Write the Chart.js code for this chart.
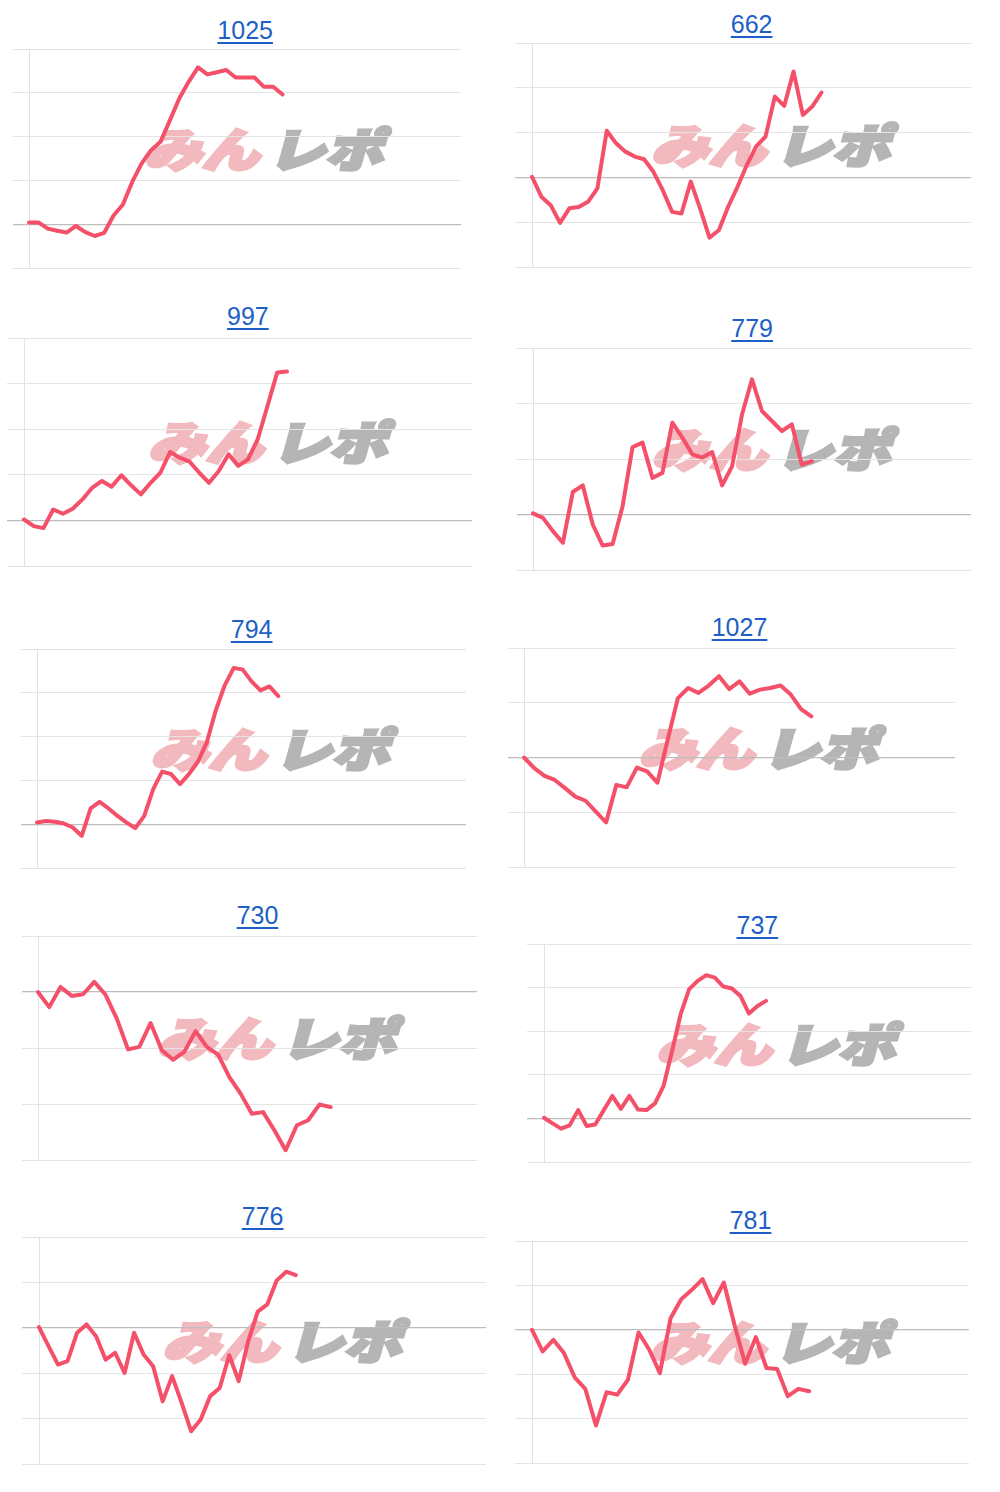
<!DOCTYPE html>
<html><head><meta charset="utf-8">
<script src="https://cdn.jsdelivr.net/npm/chart.js@4.4.1/dist/chart.umd.min.js"></script>
<style>
html,body{margin:0;padding:0;background:#fff}
body{width:1000px;height:1492px;position:relative;overflow:hidden;font-family:"Liberation Sans",Arial,Helvetica,sans-serif}
.t{position:absolute;color:#1d5fc6;text-decoration:underline;text-underline-offset:3px;font-size:25px;line-height:1;transform:translateX(-50%);white-space:nowrap}
canvas.c{position:absolute}
</style></head><body>
<script>
// ---- data ----
const titles = ['1025','662','997','779','794','1027','730','737','776','781'];
const s1025 = [40,40,-100,-150,-190,-40,-180,-270,-200,200,450,970,1390,1690,1880,2370,2870,3250,3580,3420,3470,3520,3350,3350,3350,3140,3140,2960];
const s662  = [15,-430,-620,-1015,-690,-660,-545,-245,1040,760,575,465,405,125,-285,-770,-805,-95,-695,-1345,-1180,-655,-210,275,690,910,1805,1595,2365,1395,1580,1895];
const s997  = [20,-125,-170,240,145,255,460,715,865,740,990,770,570,825,1045,1500,1375,1290,1045,825,1085,1450,1195,1340,1780,2510,3245,3265];
const s779  = [20,-60,-300,-510,405,525,-180,-560,-530,150,1215,1295,660,750,1655,1385,1085,1025,1125,525,870,1805,2435,1865,1685,1505,1625,900,960];
const s794  = [40,75,55,15,-75,-265,360,510,360,190,40,-90,190,800,1200,1145,915,1145,1425,1870,2595,3170,3565,3535,3260,3055,3145,2925];
const s1027 = [0,-195,-335,-410,-560,-715,-790,-990,-1185,-500,-545,-185,-255,-460,325,1085,1270,1180,1315,1485,1250,1390,1165,1240,1270,1315,1150,885,750];
const s730  = [0,-270,90,-70,-40,180,-50,-475,-1025,-980,-555,-1040,-1210,-1070,-700,-980,-1120,-1520,-1815,-2175,-2145,-2470,-2825,-2380,-2290,-2010,-2055];
const s737  = [15,-115,-235,-160,190,-175,-140,190,515,220,515,205,190,345,745,1545,2390,2965,3155,3285,3230,3025,2980,2810,2405,2580,2695];
const s776  = [15,-405,-810,-735,-110,75,-185,-700,-550,-995,-110,-590,-845,-1620,-1065,-1655,-2280,-2020,-1505,-1325,-605,-1175,-295,355,515,1045,1235,1160];
const s781  = [0,-485,-225,-525,-1070,-1330,-2155,-1405,-1460,-1125,-60,-450,-975,260,690,900,1140,600,1065,110,-765,-165,-860,-885,-1495,-1330,-1385];
const seriesList = [s1025,s662,s997,s779,s794,s1027,s730,s737,s776,s781];
// x-axis slot counts (number of intervals on the game axis)
const xSlots = [46,47,46,44,48,42,39,50,47,41];
// y-axis ranges
const yMins = [-1000,-2000,-1000,-1000,-1000,-2000,-3000,-1000,-3000,-3000];
const yMaxs = [4000,3000,4000,3000,4000,2000,1000,4000,2000,2000];
const yStep = 1000;

// ---- layout (positions only) ----
const layout = [
 {L:29.3,T:49.3,R:461,B:268.3,G:12.7,tt:21},
 {L:532.3,T:43.3,R:971,B:266.7,G:515,tt:15},
 {L:24,T:338.3,R:471.7,B:566,G:7.3,tt:307},
 {L:533.3,T:348.3,R:971,B:570,G:516.7,tt:319},
 {L:37.3,T:649.3,R:466,B:867.7,G:20.7,tt:620},
 {L:524,T:648.3,R:955,B:866.7,G:508.3,tt:618},
 {L:38.3,T:936,R:476.7,B:1160,G:21.7,tt:906.7},
 {L:544,T:944,R:970.7,B:1161.7,G:527.3,tt:916},
 {L:39.3,T:1237.3,R:486,B:1464,G:21.7,tt:1207.7},
 {L:531.7,T:1240.7,R:969.3,B:1463.3,G:515,tt:1211.7}
];

const watermark = {
  id:'watermark',
  beforeDraw(chart){
    const a = chart.chartArea, ctx = chart.ctx;
    const cx = a.left + (a.right-a.left)*0.563;
    const cy = a.top + (a.bottom-a.top)*0.45;
    ctx.save();
    ctx.translate(cx, cy);
    ctx.scale(1.25, 1);
    ctx.transform(1,0,-0.22,1,0,0);
    ctx.font = '900 46px "Noto Sans CJK JP"';
    ctx.textAlign = 'center';
    ctx.textBaseline = 'middle';
    ctx.lineJoin = 'miter';
    ctx.lineWidth = 3.5;
    ctx.fillStyle = ctx.strokeStyle = '#f2b9be';
    ctx.strokeText('みん', -52, 2);
    ctx.fillText('みん', -52, 2);
    ctx.fillStyle = ctx.strokeStyle = '#b5b5b5';
    ctx.strokeText('レポ', 47, 2);
    ctx.fillText('レポ', 47, 2);
    ctx.restore();
  }
};

const PAD = 4;
layout.forEach((p, i) => {
  const t = document.createElement('a');
  t.className = 't';
  t.href = '#';
  t.textContent = titles[i];
  t.style.left = ((p.L + p.R)/2) + 'px';
  t.style.top = (p.tt - 3.3) + 'px';
  document.body.appendChild(t);

  const left = Math.round(p.G), top = Math.round(p.T) - PAD;
  const w = Math.round(p.R) - left + PAD, h = Math.round(p.B) - Math.round(p.T) + 2*PAD;
  const cv = document.createElement('canvas');
  cv.className = 'c';
  cv.width = w; cv.height = h;
  cv.style.left = left + 'px'; cv.style.top = top + 'px';
  cv.style.width = w + 'px'; cv.style.height = h + 'px';
  document.body.appendChild(cv);

  const labels = Array.from({length: xSlots[i] + 1}, (_, k) => String(k));
  new Chart(cv, {
    type: 'line',
    data: { labels, datasets: [{ data: seriesList[i], borderColor: '#f4506a', borderWidth: 4, pointRadius: 0, tension: 0, fill: false, borderJoinStyle: 'round', borderCapStyle: 'round' }] },
    options: {
      responsive: false, animation: false, devicePixelRatio: 1,
      layout: { padding: { top: PAD, bottom: PAD, right: PAD, left: 0 } },
      plugins: { legend: { display: false }, tooltip: { enabled: false }, title: { display: false } },
      events: [],
      scales: {
        x: { type: 'category', display: false, offset: false },
        y: {
          min: yMins[i], max: yMaxs[i],
          ticks: { display: false, stepSize: yStep },
          grid: {
            drawTicks: true, tickLength: Math.round(p.L) - left,
            color: c => (c.tick && c.tick.value === 0) ? '#bdbdbd' : '#e4e4e4',
            lineWidth: c => (c.tick && c.tick.value === 0) ? 1.3 : 1
          },
          border: { display: true, color: '#e2e2e2', width: 1 }
        }
      }
    },
    plugins: [watermark]
  });
});
</script>
</body></html>
